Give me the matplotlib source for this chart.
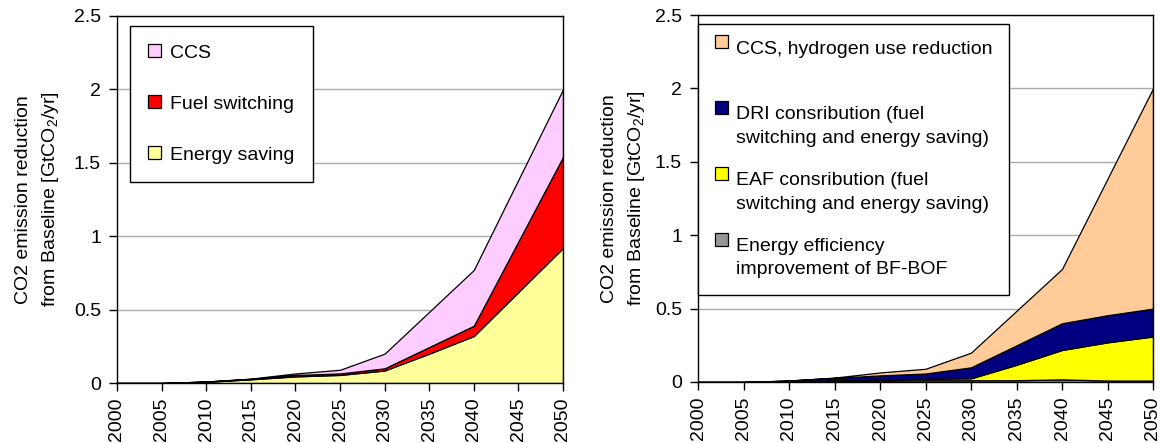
import matplotlib
matplotlib.use("Agg")
import matplotlib.pyplot as plt
from matplotlib.patches import Patch, Rectangle
from matplotlib.legend_handler import HandlerPatch

plt.rcParams['font.family'] = ['Liberation Sans', 'DejaVu Sans']
plt.rcParams['mathtext.fontset'] = 'custom'
plt.rcParams['mathtext.rm'] = 'Liberation Sans'
plt.rcParams['mathtext.it'] = 'Liberation Sans:italic'
plt.rcParams['font.size'] = 14

years = [2000, 2005, 2010, 2015, 2020, 2025, 2030, 2035, 2040, 2045, 2050]

# left chart layers [GtCO2/yr], bottom to top
energy_saving = [0, 0, 0.008, 0.025, 0.045, 0.055, 0.085, 0.20, 0.32, 0.62, 0.92]
fuel_switching = [0, 0, 0.002, 0.003, 0.010, 0.010, 0.015, 0.045, 0.07, 0.345, 0.62]
ccs = [0, 0, 0, 0.002, 0.010, 0.025, 0.100, 0.240, 0.38, 0.42, 0.46]

# right chart layers, bottom to top
bf_bof = [0, 0, 0.003, 0.006, 0.010, 0.012, 0.012, 0.012, 0.018, 0.010, 0.010]
eaf = [0, 0, 0.002, 0.006, 0.008, 0.010, 0.013, 0.105, 0.200, 0.260, 0.300]
dri = [0, 0, 0.005, 0.016, 0.027, 0.036, 0.075, 0.133, 0.182, 0.185, 0.190]
ccs_h2 = [0, 0, 0, 0.002, 0.020, 0.032, 0.100, 0.235, 0.370, 0.930, 1.500]

left_labels = ['Energy saving', 'Fuel switching', 'CCS']
left_colors = ['#FFFF99', '#FF0000', '#FFCCFF']
right_labels = ['Energy efficiency\nimprovement of BF-BOF',
                'EAF consribution (fuel\nswitching and energy saving)',
                'DRI consribution (fuel\nswitching and energy saving)',
                'CCS, hydrogen use reduction\n ']
right_colors = ['#969696', '#FFFF00', '#000080', '#FFCC99']

ylabel = 'CO2 emission reduction\nfrom Baseline [GtCO$_2$/yr]'
yticks = [0, 0.5, 1, 1.5, 2, 2.5]
ytick_labels = ['0', '0.5', '1', '1.5', '2', '2.5']


def top_square(shift_lines):
    # square handle lined up with the first text line of the label
    def make(legend, orig_handle, xdescent, ydescent, width, height, fontsize):
        shift = shift_lines * 0.95 * fontsize
        return Rectangle((-xdescent, -ydescent + shift), height, height)
    return make


def style_axes(ax, label_x):
    ax.set_xlim(2000, 2050)
    ax.set_ylim(0, 2.5)
    ax.set_xticks(years)
    ax.set_xticklabels([str(y) for y in years], rotation=90)
    ax.set_yticks(yticks)
    ax.set_yticklabels(ytick_labels)
    ax.tick_params(direction='out', length=5.5, width=1, color='black')
    ax.tick_params(axis='x', pad=5)
    ax.tick_params(axis='y', pad=6)
    ax.grid(axis='y', color='#aaaaaa', linewidth=1)
    ax.set_axisbelow(True)
    for s in ax.spines.values():
        s.set_color('black')
        s.set_linewidth(1)
    ax.set_ylabel(ylabel, linespacing=1.55)
    ax.yaxis.set_label_coords(label_x, 0.5)


fig = plt.figure(figsize=(11.62, 4.43), dpi=100)
ax1 = fig.add_axes([117 / 1162, 60 / 443, 446 / 1162, 367 / 443])
ax2 = fig.add_axes([698 / 1162, 61 / 443, 455 / 1162, 367 / 443])

ax1.stackplot(years, energy_saving, fuel_switching, ccs, colors=left_colors,
              edgecolor='black', linewidth=0.9)
style_axes(ax1, -0.125)
h1 = [Patch(facecolor=c, edgecolor='black', linewidth=0.9) for c in left_colors]
leg1 = ax1.legend(h1[::-1], left_labels[::-1], loc='upper left',
                  bbox_to_anchor=(13 / 446, 1 - 10 / 367), borderaxespad=0,
                  fancybox=False, framealpha=1, edgecolor='black',
                  handlelength=0.65, handleheight=0.65, handletextpad=0.45,
                  labelspacing=1.73, borderpad=0.95, fontsize=14)
leg1.get_frame().set_linewidth(1)

ax2.stackplot(years, bf_bof, eaf, dri, ccs_h2, colors=right_colors,
              edgecolor='black', linewidth=0.9)
style_axes(ax2, -0.112)
h2 = [Patch(facecolor=c, edgecolor='black', linewidth=0.9) for c in right_colors]
hmap = {h: HandlerPatch(patch_func=top_square(1)) for h in h2}
leg2 = ax2.legend(h2[::-1], right_labels[::-1], loc='upper left',
                  bbox_to_anchor=(0, 1 - 9 / 367), borderaxespad=0,
                  fancybox=False, framealpha=1, edgecolor='black',
                  handlelength=0.65, handleheight=0.65, handletextpad=0.45,
                  labelspacing=1.3, borderpad=0.85, fontsize=14, handler_map=hmap)
leg2.get_frame().set_linewidth(1)
for t in leg2.get_texts():
    t.set_linespacing(1.5)

fig.savefig('out.png', dpi=100)
